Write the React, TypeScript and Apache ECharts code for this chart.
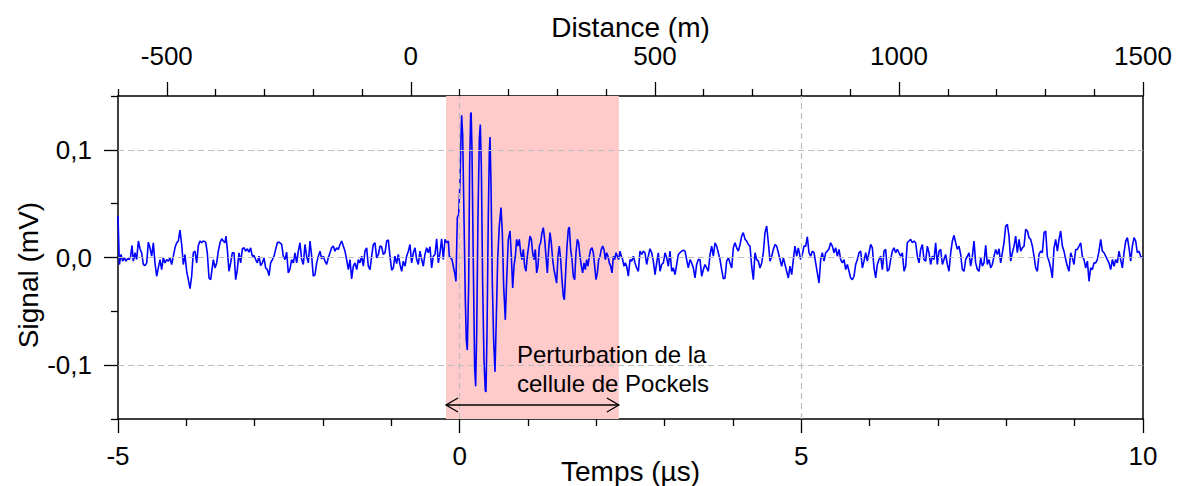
import React, { useEffect, useRef } from "react";
import * as echarts from "echarts";

const FONT = "'Liberation Sans', Arial, Helvetica, sans-serif";

// axes
const timeMin = -5;
const timeMax = 10;
const distanceMin = -600;
const distanceMax = 1500;
const signalMin = -0.15;
const signalMax = 0.15;
const distanceMajor = [-500, 0, 500, 1000, 1500];
const distanceMinor = [-600, -400, -300, -200, -100, 100, 200, 300, 400, 600, 700, 800, 900, 1100, 1200, 1300, 1400];
const signalMajor = [-0.1, 0, 0.1];
const signalMinor = [-0.15, -0.05, 0.05, 0.15];
const gridTimes = [0, 5];
const gridSignals = [-0.1, 0, 0.1];

// annotation
const pockelsWindow = [-0.2, 2.33];
const arrowLevel = -0.137;
const annotationText = "Perturbation de la\ncellule de Pockels";

// signal (time µs, signal mV)
const sigA = [
  [-5.0, 0.0386], [-4.98, -0.0065], [-4.956, 0.0028], [-4.932, -0.0034], [-4.907, -0.0003], [-4.883, -0.0034], [-4.859, -0.0012], [-4.834, -0.0019], [-4.815, 0.0012], [-4.795, 0.0112], [-4.776, -0.0034], [-4.751, 0.0044], [-4.727, -0.0019], [-4.702, 0.0153], [-4.678, 0.0081], [-4.654, 0.0044], [-4.629, -0.0065], [-4.605, -0.0075], [-4.58, -0.005], [-4.556, 0.0143], [-4.532, 0.009], [-4.507, 0.0012], [-4.483, 0.0137], [-4.459, -0.005], [-4.434, -0.0174], [-4.41, -0.0097], [-4.385, -0.0019], [-4.361, -0.0112], [-4.337, -0.0003], [-4.312, -0.005], [-4.288, -0.0019], [-4.263, -0.0034], [-4.239, -0.0003], [-4.215, -0.0065], [-4.19, 0.0012], [-4.166, 0.009], [-4.141, 0.0137], [-4.117, 0.0153], [-4.093, 0.0255], [-4.068, 0.0121], [-4.044, -0.0065], [-4.02, 0.0028], [-3.995, -0.0128], [-3.971, -0.0206], [-3.946, -0.029], [-3.922, -0.0174], [-3.898, 0.0044], [-3.873, 0.0059], [-3.849, -0.005], [-3.824, 0.0112], [-3.8, 0.0153], [-3.776, 0.0137], [-3.751, 0.0153], [-3.717, 0.0143], [-3.693, 0.0044], [-3.668, -0.019], [-3.644, -0.0206], [-3.624, -0.0112], [-3.605, -0.0019], [-3.58, -0.0097], [-3.556, -0.005], [-3.532, 0.0059], [-3.507, 0.0137], [-3.483, 0.0174], [-3.459, 0.0153], [-3.434, 0.0137], [-3.42, 0.0199], [-3.4, 0.0075], [-3.376, -0.0128], [-3.351, -0.005], [-3.327, 0.0044], [-3.302, 0.0044], [-3.278, -0.0206], [-3.254, -0.0112], [-3.229, 0.0044], [-3.205, -0.005], [-3.18, 0.0081], [-3.156, 0.009], [-3.132, 0.0059], [-3.107, 0.0081], [-3.083, 0.005], [-3.059, 0.009], [-3.034, 0.0012], [-3.01, 0.0019], [-2.985, -0.0019], [-2.961, -0.005], [-2.937, 0.0012], [-2.912, -0.0075], [-2.888, -0.005], [-2.863, -0.0003], [-2.839, -0.0097], [-2.815, -0.0112], [-2.79, -0.0168], [-2.766, -0.005], [-2.741, -0.0019], [-2.717, 0.0012], [-2.693, 0.0075], [-2.668, 0.0137], [-2.644, 0.0143],
];
const sigB = [
  [-2.605, 0.0121], [-2.581, 0.0012], [-2.556, -0.0019], [-2.532, 0.005], [-2.508, -0.0143], [-2.483, -0.0106], [-2.459, -0.0019], [-2.434, -0.005], [-2.41, 0.0044], [-2.386, -0.005], [-2.361, 0.0059], [-2.337, 0.0137], [-2.312, -0.0019], [-2.288, -0.0065], [-2.264, 0.0121], [-2.239, 0.0012], [-2.215, -0.005], [-2.19, 0.0153], [-2.166, 0.0012], [-2.142, -0.0174], [-2.117, -0.0159], [-2.093, -0.005], [-2.068, 0.0012], [-2.044, 0.0059], [-2.02, -0.0012], [-1.995, 0.0012], [-1.971, -0.0034], [-1.947, -0.0065], [-1.922, -0.0003], [-1.898, 0.0044], [-1.873, 0.009], [-1.849, 0.0106], [-1.825, 0.0059], [-1.8, 0.009], [-1.776, 0.0075], [-1.751, 0.0121], [-1.727, 0.0153], [-1.703, 0.0106], [-1.678, 0.0059], [-1.654, -0.0019], [-1.629, -0.0112], [-1.605, -0.0019], [-1.581, -0.0199], [-1.556, -0.0081], [-1.532, -0.005], [-1.507, -0.0112], [-1.483, -0.0019], [-1.459, -0.005], [-1.434, 0.0012], [-1.41, -0.0081], [-1.386, 0.0059], [-1.361, 0.009], [-1.337, -0.0081], [-1.312, -0.0112], [-1.288, 0.0012], [-1.264, 0.0121], [-1.239, 0.0137], [-1.215, -0.0003], [-1.19, 0.0028], [-1.166, 0.0106], [-1.142, 0.01], [-1.117, 0.0028], [-1.093, 0.0044], [-1.068, 0.0153], [-1.044, 0.0162], [-1.02, 0.0012], [-0.995, -0.0118], [-0.971, -0.0097], [-0.947, 0.0012], [-0.922, -0.0056], [-0.898, 0.0028], [-0.873, -0.0065], [-0.849, -0.0128], [-0.825, -0.0034], [-0.8, -0.0081], [-0.776, 0.0012], [-0.751, 0.0059], [-0.727, 0.0121], [-0.703, -0.005], [-0.678, 0.0044], [-0.654, 0.009], [-0.629, -0.0019], [-0.605, -0.0065], [-0.581, 0.0059], [-0.556, -0.0019], [-0.532, -0.0081], [-0.508, 0.0028], [-0.483, 0.009], [-0.459, 0.0044], [-0.434, 0.01], [-0.41, -0.0097], [-0.386, 0.0012], [-0.361, 0.0028], [-0.337, 0.0174], [-0.312, -0.005], [-0.288, 0.0044], [-0.264, 0.0174], [-0.239, -0.0019],
];
const sigC = [
  [-0.215, 0.0168], [-0.19, 0.0137], [-0.166, 0.0153], [-0.151, 0.0012], [-0.132, -0.0003], [-0.112, -0.0019], [-0.093, -0.0081], [-0.068, -0.0159], [-0.054, -0.0221], [-0.034, 0.0371], [-0.015, 0.0402], [0.005, 0.0698], [0.019, 0.1103], [0.029, 0.1321], [0.044, 0.1134], [0.063, 0.0386], [0.083, -0.0393], [0.097, -0.0766], [0.112, -0.086], [0.132, -0.0237], [0.146, 0.0854], [0.161, 0.1336], [0.168, 0.1346], [0.18, 0.1009], [0.2, -0.0081], [0.219, -0.1016], [0.234, -0.1196], [0.249, -0.0704], [0.268, 0.0386], [0.288, 0.1103], [0.302, 0.1234], [0.317, 0.0854], [0.336, -0.0237], [0.356, -0.0953], [0.375, -0.1234], [0.385, -0.1249], [0.4, -0.0704], [0.419, 0.0386], [0.434, 0.0978], [0.444, 0.1118], [0.458, 0.0698], [0.478, -0.0237], [0.497, -0.0766], [0.517, -0.1062], [0.537, -0.0548], [0.556, -0.0019], [0.58, 0.0293], [0.605, 0.0464], [0.624, 0.0231], [0.644, -0.0268], [0.668, -0.0579], [0.688, -0.0206], [0.712, 0.0168], [0.737, 0.0246], [0.756, 0.0012], [0.776, -0.0283], [0.795, -0.0081], [0.815, 0.0012], [0.834, 0.0168], [0.854, 0.0106], [0.873, 0.0168], [0.893, 0.0044], [0.912, -0.0019], [0.932, 0.0075], [0.951, -0.0081], [0.971, -0.0128], [0.99, 0.0012], [1.01, 0.0106], [1.029, 0.0199], [1.049, 0.0168], [1.068, 0.0044], [1.088, -0.0019], [1.107, 0.0075], [1.127, -0.0143], [1.146, -0.0081], [1.166, 0.0106], [1.185, 0.0137], [1.205, 0.0231], [1.224, 0.0277], [1.244, 0.0168], [1.263, 0.0012], [1.283, -0.0143], [1.302, 0.0075], [1.322, 0.0231], [1.341, 0.0137], [1.361, -0.0019], [1.38, -0.0112], [1.4, -0.0174], [1.419, -0.0237], [1.439, 0.0012], [1.458, 0.0106], [1.478, -0.0019], [1.497, -0.0206], [1.517, -0.0361], [1.532, -0.0393], [1.551, -0.0143], [1.571, 0.0106], [1.59, 0.0262], [1.605, 0.0283], [1.624, 0.0075], [1.644, -0.0019], [1.663, -0.0174], [1.683, -0.0206], [1.702, 0.0044], [1.722, 0.0168], [1.741, 0.0137], [1.761, 0.0012], [1.781, -0.0081], [1.8, -0.0143], [1.82, -0.005], [1.839, -0.0112], [1.859, -0.0019], [1.878, -0.0081], [1.898, 0.0012], [1.917, 0.0075], [1.937, 0.009], [1.956, 0.0044], [1.976, -0.0081], [1.995, -0.0206], [2.015, -0.0143], [2.034, -0.0019], [2.054, 0.0012], [2.073, 0.0075], [2.093, 0.0106], [2.112, 0.0075], [2.132, -0.0019], [2.151, 0.0044], [2.171, 0.0012], [2.19, -0.005], [2.21, -0.0081], [2.229, -0.0143], [2.249, 0.0012], [2.268, -0.0019], [2.288, 0.0044], [2.307, 0.0012], [2.327, -0.0019], [2.346, 0.0059], [2.366, 0.0012], [2.385, -0.0019], [2.405, -0.0081], [2.424, -0.005], [2.444, -0.0081], [2.468, -0.0174],
];
const sigD = [
  [2.493, -0.0019], [2.517, -0.0034], [2.542, 0.0012], [2.566, -0.005], [2.59, -0.0097], [2.615, -0.0128], [2.639, 0.0059], [2.664, 0.0028], [2.688, 0.0059], [2.712, 0.0044], [2.737, -0.0065], [2.761, 0.0012], [2.785, 0.0081], [2.81, 0.0044], [2.834, -0.0034], [2.859, -0.0159], [2.883, -0.005], [2.907, 0.0044], [2.932, -0.0128], [2.956, -0.0065], [2.981, -0.005], [3.005, 0.0044], [3.029, -0.0003], [3.054, -0.0081], [3.078, 0.0059], [3.103, -0.0128], [3.127, -0.0097], [3.151, -0.0159], [3.176, -0.0065], [3.2, 0.0028], [3.224, 0.0044], [3.249, 0.0059], [3.273, 0.0069], [3.298, 0.0059], [3.322, -0.0019], [3.346, -0.0097], [3.371, -0.0019], [3.395, -0.005], [3.42, -0.0097], [3.444, -0.019], [3.468, -0.0065], [3.493, -0.0019], [3.517, -0.0019], [3.542, -0.0174], [3.566, -0.0112], [3.59, -0.0065], [3.615, -0.0097], [3.639, -0.0128], [3.664, 0.0028], [3.688, 0.0106], [3.712, 0.0012], [3.737, 0.0137], [3.761, 0.0106], [3.785, 0.0044], [3.81, -0.0019], [3.834, -0.0112], [3.859, -0.0199], [3.883, -0.019], [3.907, -0.0034], [3.932, -0.0003], [3.956, -0.005], [3.981, -0.0097], [4.005, 0.009], [4.029, 0.0137], [4.054, 0.009], [4.078, 0.0059], [4.103, 0.0121], [4.127, 0.0199], [4.151, 0.0231], [4.176, 0.0168], [4.2, 0.0153], [4.224, 0.0121], [4.249, 0.0106], [4.273, -0.0081], [4.298, -0.0206], [4.322, 0.0044], [4.346, -0.0019], [4.371, -0.0034], [4.395, -0.0097], [4.42, -0.005], [4.444, 0.0044], [4.468, 0.0231], [4.493, 0.0293], [4.517, 0.0137], [4.542, -0.0034], [4.566, 0.0012], [4.59, 0.0075], [4.615, 0.0121], [4.639, 0.0106], [4.664, 0.0044], [4.688, -0.0019], [4.712, -0.0081], [4.737, -0.0003], [4.761, -0.0065], [4.785, -0.0128], [4.81, -0.019], [4.834, -0.0081], [4.859, -0.0159], [4.883, -0.0019], [4.907, 0.0106], [4.932, 0.0012], [4.956, 0.009],
];
const sigE = [
  [4.99, -0.0019], [5.015, 0.0028], [5.039, 0.0106], [5.064, 0.0106], [5.088, 0.0193], [5.112, 0.0044], [5.137, 0.0012], [5.161, 0.0059], [5.186, 0.0044], [5.21, -0.005], [5.234, -0.0143], [5.259, -0.0237], [5.283, -0.0019], [5.307, 0.0044], [5.332, -0.0034], [5.356, 0.0044], [5.381, 0.0059], [5.405, 0.0081], [5.429, 0.0137], [5.454, 0.0106], [5.478, 0.0044], [5.503, 0.009], [5.527, 0.0012], [5.551, 0.0075], [5.576, -0.0019], [5.6, -0.005], [5.625, -0.0019], [5.649, -0.0112], [5.673, -0.0065], [5.698, -0.0128], [5.722, -0.019], [5.746, -0.0206], [5.771, -0.0174], [5.795, -0.0065], [5.82, -0.0019], [5.844, 0.0044], [5.868, 0.0059], [5.893, -0.0097], [5.917, -0.0034], [5.942, 0.0044], [5.966, -0.0034], [5.99, 0.0044], [6.015, 0.0121], [6.039, 0.009], [6.064, -0.0097], [6.088, -0.019], [6.112, -0.0065], [6.137, -0.0019], [6.161, 0.0012], [6.186, -0.0112], [6.21, 0.0059], [6.234, 0.0075], [6.259, -0.0128], [6.283, -0.0112], [6.307, -0.0019], [6.332, 0.0059], [6.356, 0.009], [6.381, 0.0044], [6.405, 0.0075], [6.429, 0.0044], [6.454, 0.0012], [6.478, 0.0044], [6.503, -0.0128], [6.527, -0.0081], [6.551, 0.0137], [6.576, 0.0153], [6.6, 0.0168], [6.624, 0.0137], [6.649, 0.0153], [6.673, 0.0137], [6.698, 0.0012], [6.722, -0.005], [6.746, 0.0075], [6.771, 0.0121], [6.795, -0.0019], [6.82, -0.0034], [6.844, 0.0106], [6.868, 0.0044], [6.893, -0.0065], [6.917, 0.0012], [6.942, -0.0019], [6.966, 0.0137], [6.99, -0.0065], [7.015, 0.0059], [7.039, 0.0075], [7.064, -0.0065], [7.088, -0.0019], [7.112, 0.0028], [7.137, -0.0065], [7.161, -0.0128], [7.186, 0.0044], [7.21, 0.0153], [7.234, 0.0206], [7.259, 0.0137], [7.283, 0.0075], [7.307, 0.0106], [7.332, 0.0028], [7.356, -0.0112], [7.381, -0.0128], [7.405, -0.0019], [7.43, 0.0012], [7.454, 0.0044],
];
const sigF = [
  [7.478, -0.0081], [7.503, 0.0012], [7.527, 0.0153], [7.551, -0.005], [7.576, -0.0112], [7.6, -0.0128], [7.625, -0.0003], [7.649, -0.0081], [7.673, -0.005], [7.698, 0.0112], [7.722, -0.0065], [7.747, -0.0019], [7.771, -0.0097], [7.795, -0.0065], [7.82, 0.0012], [7.844, 0.0075], [7.869, 0.0028], [7.893, 0.0081], [7.917, -0.005], [7.942, 0.0044], [7.966, 0.0137], [7.991, 0.0293], [8.015, 0.0308], [8.039, 0.0199], [8.064, -0.0034], [8.088, 0.0044], [8.113, 0.0106], [8.137, 0.0199], [8.161, 0.0044], [8.186, 0.0168], [8.21, 0.0059], [8.234, 0.009], [8.259, 0.0106], [8.283, 0.0262], [8.308, 0.0246], [8.332, 0.0184], [8.356, 0.0168], [8.381, 0.0106], [8.405, 0.0012], [8.43, -0.0097], [8.454, -0.0128], [8.478, 0.0028], [8.503, 0.0059], [8.527, 0.0044], [8.552, 0.0231], [8.576, 0.0246], [8.6, 0.0012], [8.625, -0.0034], [8.649, -0.0097], [8.673, -0.019], [8.698, 0.009], [8.722, 0.0168], [8.747, 0.0059], [8.771, 0.0168], [8.795, 0.0246], [8.82, 0.0106], [8.844, 0.0059], [8.869, -0.0019], [8.893, -0.0081], [8.917, -0.0128], [8.942, 0.0044], [8.966, -0.0003], [8.99, -0.0065], [9.015, 0.0075], [9.039, 0.0075], [9.064, 0.0106], [9.088, 0.0137], [9.112, 0.0012], [9.137, -0.0019], [9.161, -0.0097], [9.186, -0.0034], [9.21, -0.0221], [9.234, -0.0097], [9.259, -0.0112], [9.283, -0.005], [9.308, -0.005], [9.332, -0.0019], [9.356, 0.0059], [9.381, 0.0168], [9.405, 0.0059], [9.43, 0.0044], [9.454, 0.0012], [9.478, -0.0019], [9.503, -0.005], [9.527, -0.0112], [9.552, -0.0019], [9.576, -0.0081], [9.6, -0.0019], [9.625, -0.005], [9.649, 0.0059], [9.673, -0.0019], [9.698, -0.0097], [9.722, 0.0044], [9.747, 0.0153], [9.771, 0.0184], [9.795, 0.009], [9.82, -0.0034], [9.844, 0.0106], [9.869, 0.0184], [9.893, 0.0153], [9.917, 0.0044], [9.942, 0.0059], [9.966, 0.0012], [9.99, -0.0003], [10.0, 0.0005],
];

const signal = [...sigA, ...sigB, ...sigC, ...sigD, ...sigE, ...sigF];

const BLACK = "#000000";
const fmtSignal = (v: number) => (Math.abs(v) < 1e-9 ? "0,0" : v.toFixed(1).replace(".", ","));
const fmtPlain = (v: number) => String(Math.round(v));

function buildOption(): any {
  const tickStyle = { color: BLACK, width: 1.3 };
  return {
    animation: false,
    backgroundColor: "#ffffff",
    textStyle: { fontFamily: FONT },
    grid: { left: 118, right: 35, top: 96, bottom: 67, containLabel: false, outerBoundsMode: "none" },
    xAxis: [
      {
        type: "value",
        position: "bottom",
        min: timeMin,
        max: timeMax,
        interval: 5,
        name: "Temps (µs)",
        nameLocation: "middle",
        nameGap: 38,
        nameMoveOverlap: false,
        nameTextStyle: { fontSize: 28, color: BLACK, fontFamily: FONT },
        axisLine: { show: true, onZero: false, lineStyle: { color: BLACK, width: 1.5 } },
        axisTick: { show: true, inside: false, length: 14, lineStyle: tickStyle },
        minorTick: { show: true, splitNumber: 5, length: 7, lineStyle: tickStyle },
        axisLabel: { fontSize: 26, color: BLACK, margin: 24, fontFamily: FONT, formatter: fmtPlain },
        splitLine: { show: false },
        minorSplitLine: { show: false },
      },
      {
        type: "value",
        position: "top",
        min: distanceMin,
        max: distanceMax,
        name: "Distance (m)",
        nameLocation: "middle",
        nameGap: 55,
        nameMoveOverlap: false,
        nameTextStyle: { fontSize: 28, color: BLACK, fontFamily: FONT },
        axisLine: { show: true, onZero: false, lineStyle: { color: BLACK, width: 1.5 } },
        axisTick: { show: true, inside: false, length: 14, customValues: distanceMajor, lineStyle: tickStyle },
        axisLabel: { fontSize: 26, color: BLACK, margin: 27, fontFamily: FONT, customValues: distanceMajor, formatter: fmtPlain },
        splitLine: { show: false },
      },
      {
        type: "value",
        position: "top",
        min: distanceMin,
        max: distanceMax,
        axisLine: { show: false, onZero: false },
        axisTick: { show: true, inside: false, length: 7, customValues: distanceMinor, lineStyle: tickStyle },
        axisLabel: { show: false },
        splitLine: { show: false },
      },
    ],
    yAxis: [
      {
        type: "value",
        position: "left",
        min: signalMin,
        max: signalMax,
        axisLine: { show: true, onZero: false, lineStyle: { color: BLACK, width: 1.5 } },
        axisTick: { show: true, inside: false, length: 14, customValues: signalMajor, lineStyle: tickStyle },
        axisLabel: { fontSize: 26, color: BLACK, margin: 26, fontFamily: FONT, customValues: signalMajor, formatter: fmtSignal },
        splitLine: { show: false },
      },
      {
        type: "value",
        position: "left",
        min: signalMin,
        max: signalMax,
        axisLine: { show: false, onZero: false },
        axisTick: { show: true, inside: false, length: 7, customValues: signalMinor, lineStyle: tickStyle },
        axisLabel: { show: false },
        splitLine: { show: false },
      },
      {
        type: "value",
        position: "right",
        min: signalMin,
        max: signalMax,
        axisLine: { show: true, onZero: false, lineStyle: { color: BLACK, width: 1.5 } },
        axisTick: { show: false },
        axisLabel: { show: false },
        splitLine: { show: false },
      },
    ],
    graphic: [
      {
        type: "text",
        x: 28,
        y: 275,
        rotation: Math.PI / 2,
        style: {
          text: "Signal (mV)",
          fontSize: 28,
          fontFamily: FONT,
          fill: BLACK,
          align: "center",
          verticalAlign: "middle",
        },
      },
      {
        type: "text",
        left: 517,
        top: 340,
        z: 10,
        style: {
          text: annotationText,
          fontSize: 24,
          fontFamily: FONT,
          fill: BLACK,
          lineHeight: 29,
        },
      },
    ],
    series: [
      {
        type: "line",
        data: [],
        z: 1,
        silent: true,
        markArea: {
          silent: true,
          itemStyle: { color: "#ffcaca" },
          data: [[{ xAxis: pockelsWindow[0] }, { xAxis: pockelsWindow[1] }]],
        },
      },
      {
        type: "line",
        data: [],
        z: 2,
        silent: true,
        markLine: {
          silent: true,
          symbol: ["none", "none"],
          label: { show: false },
          lineStyle: { color: "#bdbdbd", type: [6, 4], width: 1.2 },
          data: [
            ...gridSignals.map((v) => ({ yAxis: v })),
            ...gridTimes.map((t) => ({ xAxis: t })),
          ],
        },
      },
      {
        type: "line",
        data: signal,
        z: 3,
        showSymbol: false,
        symbol: "none",
        lineStyle: { color: "#0000ff", width: 1.6 },
      },
      {
        type: "custom",
        z: 5,
        silent: true,
        data: [[pockelsWindow[0], pockelsWindow[1], arrowLevel]],
        encode: { x: [0, 1], y: 2 },
        renderItem: (_params: any, api: any) => {
          const a = api.coord([api.value(0), api.value(2)]);
          const b = api.coord([api.value(1), api.value(2)]);
          const style = { stroke: BLACK, lineWidth: 1.3, fill: "none" };
          return {
            type: "group",
            children: [
              { type: "line", shape: { x1: a[0], y1: a[1], x2: b[0], y2: b[1] }, style },
              { type: "polyline", shape: { points: [[a[0] + 12, a[1] - 7], [a[0], a[1]], [a[0] + 12, a[1] + 7]] }, style },
              { type: "polyline", shape: { points: [[b[0] - 12, b[1] - 7], [b[0], b[1]], [b[0] - 12, b[1] + 7]] }, style },
            ],
          };
        },
      },
    ],
  };
}

export default function App() {
  const ref = useRef<HTMLDivElement>(null);
  useEffect(() => {
    if (!ref.current) return;
    const chart = echarts.init(ref.current, null, { renderer: "svg" });
    chart.setOption(buildOption());
    return () => chart.dispose();
  }, []);
  return <div ref={ref} style={{ position: "absolute", left: 0, top: 0, width: 1178, height: 486 }} />;
}
